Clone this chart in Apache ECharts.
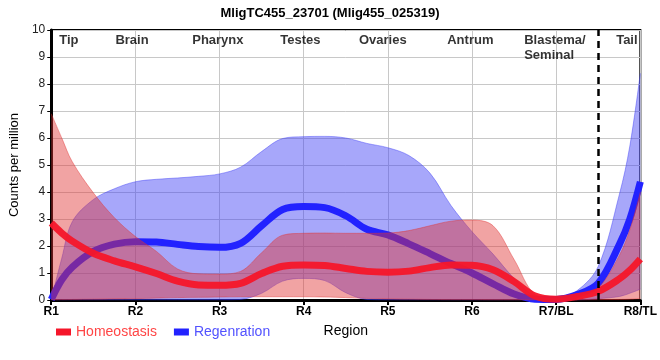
<!DOCTYPE html>
<html><head><meta charset="utf-8">
<script src="https://cdn.jsdelivr.net/npm/echarts@6/dist/echarts.min.js"></script>
<style>html,body{margin:0;padding:0;background:#fff}#c{width:660px;height:360px}</style>
</head><body><div id="c"></div>
<script>
// Category labels of the x axis (positions 1..8)
const categories = ['R1','R2','R3','R4','R5','R6','R7/BL','R8/TL'];
// Sample positions along the x axis (in category units)
const xs = [1,1.125,1.25,1.5,1.75,2,2.25,2.5,2.75,3,3.25,3.5,3.75,4,4.25,4.5,4.75,5,5.25,5.5,5.75,6,6.25,6.5,6.75,7,7.25,7.5,7.75,7.875,8];
// Homeostasis
const homeoMean = [2.85,2.48,2.18,1.73,1.45,1.23,0.98,0.70,0.56,0.55,0.62,0.98,1.25,1.30,1.28,1.17,1.06,1.03,1.07,1.20,1.30,1.29,1.12,0.68,0.15,0.03,0.13,0.32,0.78,1.10,1.52];
const homeoHi   = [6.9,6.0,5.12,3.97,3.05,2.35,1.80,1.15,0.97,0.96,1.06,1.75,2.40,2.47,2.48,2.47,2.47,2.48,2.57,2.75,2.92,2.96,2.75,1.50,0.20,0.05,0.13,0.45,1.65,2.6,4.0];
const homeoLo   = [0,0.01,0.02,0.03,0.04,0.05,0.07,0.09,0.10,0.11,0.12,0.12,0.12,0.12,0.11,0.09,0.06,0.04,0.03,0.02,0.01,0.01,0,0,0,0,0,0.01,0.02,0.03,0.05];
// Regeneration
const regenMean = [0.02,0.75,1.22,1.80,2.07,2.16,2.15,2.06,1.98,1.95,2.10,2.75,3.35,3.46,3.42,3.12,2.62,2.41,2.08,1.72,1.35,1.00,0.60,0.22,0.03,0.02,0.20,0.62,2.05,3.0,4.38];
const regenHi   = [0,1.55,2.9,3.72,4.12,4.38,4.47,4.52,4.58,4.67,4.92,5.50,5.98,6.05,6.06,6.0,5.80,5.64,5.35,4.70,3.50,2.53,1.70,0.80,0.15,0.06,0.35,1.25,3.90,5.7,8.4];
const regenLo   = [0,0,0,0,0,0,0,0,0,0,0.02,0.25,0.70,0.80,0.72,0.27,0.02,0,0,0,0,0,0,0,0,0,0,0.05,0.13,0.25,0.4];
// Region annotations on top
const regionNames = ['Tip','Brain','Pharynx','Testes','Ovaries','Antrum','Blastema/\nSeminal','Tail'];
const regionX = [1.21,1.96,2.98,3.96,4.94,5.98,6.62,7.84];
const regionY = 9.63;
const dividerX = 7.5;

const FONT = 'Liberation Sans, Arial, sans-serif';
const SM = 0.35;
const pairs = arr => xs.map((x,i)=>[x, arr[i]]);
// for stacked band series: value first (dim 0 -> y) so that y is the stacked dimension
const ypairs = arr => xs.map((x,i)=>[arr[i], x]);

function band(id, lo, hi, fill, edge, z){
  return [
    {name:id+'_lo', type:'line', stack:id, encode:{x:1, y:0}, data:ypairs(lo), smooth:SM, symbol:'none', silent:true,
     lineStyle:{width:0.8,color:edge}, z:z},
    {name:id+'_band', type:'line', stack:id, encode:{x:1, y:0}, data:ypairs(xs.map((x,i)=>Math.max(0, hi[i]-lo[i]))), smooth:SM, symbol:'none', silent:true,
     lineStyle:{width:0.8,color:edge}, areaStyle:{color:fill, opacity:1}, z:z}
  ];
}

const chart = echarts.init(document.getElementById('c'), null, {renderer:'canvas'});
chart.setOption({
  animation:false,
  textStyle:{fontFamily:FONT},
  title:{text:'MligTC455_23701 (Mlig455_025319)', left:'center', top:2,
    textStyle:{fontSize:13, fontWeight:'bold', color:'#000', fontFamily:FONT}},
  grid:{left:51, right:10, top:30, bottom:60, show:true, borderColor:'#000', borderWidth:2, backgroundColor:'transparent'},
  legend:{left:51, top:320, itemWidth:15, itemHeight:7, itemGap:17, icon:'rect',
    textStyle:{fontSize:14, fontFamily:FONT},
    data:[{name:'Homeostasis', textStyle:{color:'#ff4545'}},{name:'Regenration', textStyle:{color:'#5252ff'}}]},
  xAxis:{type:'value', min:1, max:8, interval:1,
    name:'Region', nameLocation:'middle', nameGap:24, nameTextStyle:{fontSize:14, color:'#000', fontFamily:FONT},
    axisLine:{lineStyle:{color:'#000', width:3}},
    axisTick:{show:true, length:5, lineStyle:{color:'#000', width:2}},
    axisLabel:{margin:6, fontSize:12, fontWeight:'bold', color:'#000', fontFamily:FONT,
      formatter:v=>categories[Math.round(v)-1] || ''},
    splitLine:{show:true, lineStyle:{color:'#c8c8c8', width:1}}},
  yAxis:{type:'value', min:0, max:10, interval:1,
    name:'Counts per million', nameLocation:'middle', nameGap:25, nameTextStyle:{fontSize:13, color:'#000', fontFamily:FONT},
    axisLine:{show:true, lineStyle:{color:'#000', width:3}},
    axisTick:{show:true, length:4, lineStyle:{color:'#000', width:1}},
    axisLabel:{margin:6, fontSize:12, color:'#222', fontFamily:FONT},
    splitLine:{show:true, lineStyle:{color:'#c8c8c8', width:1}}},
  series:[
    ...band('regen', regenLo, regenHi, 'rgba(60,60,245,0.45)', 'rgba(60,60,245,0.55)', 1),
    {name:'Regenration', type:'line', data:pairs(regenMean), smooth:SM, symbol:'none', clip:false,
     itemStyle:{color:'#2222ff'}, lineStyle:{color:'#2222ff', width:7}, z:2},
    ...band('homeo', homeoLo, homeoHi, 'rgba(225,50,50,0.45)', 'rgba(225,50,50,0.55)', 3),
    {name:'Homeostasis', type:'line', data:pairs(homeoMean), smooth:SM, symbol:'none', clip:false,
     itemStyle:{color:'#f5162a'}, lineStyle:{color:'rgba(245,22,42,0.95)', width:7}, z:4,
     markLine:{silent:true, symbol:['none','none'], label:{show:false},
       lineStyle:{color:'#000', type:[7,5], width:2.5},
       data:[{xAxis:dividerX}]}},
    {name:'regions', type:'scatter', symbolSize:1, itemStyle:{color:'rgba(0,0,0,0)'}, silent:true, z:6,
     data:regionX.map((x,i)=>{
       const d = {value:[x, regionY]};
       if (regionNames[i].indexOf('\n')>=0) d.label = {align:'left', offset:[0,7.5]};
       return d;
     }),
     label:{show:true, position:'inside', formatter:p=>regionNames[p.dataIndex],
       fontSize:13, fontWeight:'bold', color:'#000', fontFamily:FONT, lineHeight:15}}
  ]
});
</script></body></html>
